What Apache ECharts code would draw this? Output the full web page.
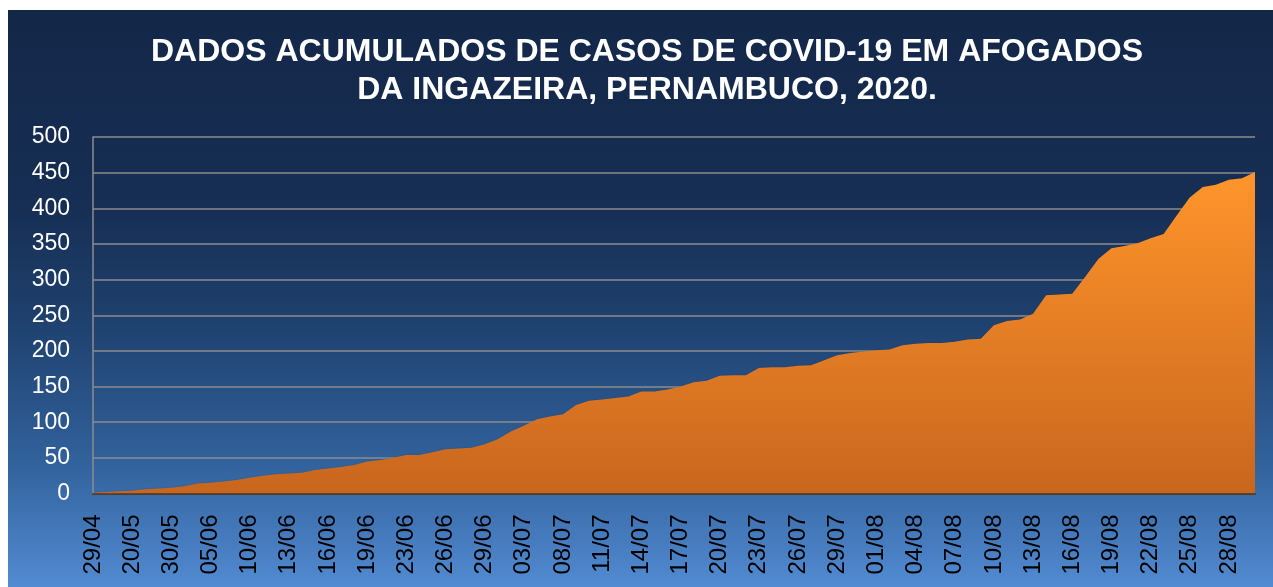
<!DOCTYPE html>
<html>
<head>
<meta charset="utf-8">
<script src="https://cdn.jsdelivr.net/npm/echarts@6/dist/echarts.min.js"></script>
<style>
  html, body { margin: 0; padding: 0; background: #ffffff; }
  #chart { position: absolute; left: 8px; top: 10px; width: 1265px; height: 577px; }
</style>
</head>
<body>
<div id="chart"></div>
<script>
// datas (só uma a cada três aparece no eixo)
var datas = [
  '29/04', '06/05', '13/05', '20/05', '23/05', '27/05', '30/05', '01/06', '03/06', '05/06',
  '07/06', '08/06', '10/06', '11/06', '12/06', '13/06', '14/06', '15/06', '16/06', '17/06',
  '18/06', '19/06', '20/06', '22/06', '23/06', '24/06', '25/06', '26/06', '27/06', '28/06',
  '29/06', '30/06', '01/07', '03/07', '05/07', '06/07', '08/07', '09/07', '10/07', '11/07',
  '12/07', '13/07', '14/07', '15/07', '16/07', '17/07', '18/07', '19/07', '20/07', '21/07',
  '22/07', '23/07', '24/07', '25/07', '26/07', '27/07', '28/07', '29/07', '30/07', '31/07',
  '01/08', '02/08', '03/08', '04/08', '05/08', '06/08', '07/08', '08/08', '09/08', '10/08',
  '11/08', '12/08', '13/08', '14/08', '15/08', '16/08', '17/08', '18/08', '19/08', '20/08',
  '21/08', '22/08', '23/08', '24/08', '25/08', '26/08', '27/08', '28/08', '29/08', '30/08'
];

// casos acumulados
var casos = [
  1, 2, 3, 4, 6, 7, 8, 10, 14, 15,
  17, 19, 22, 25, 27, 28, 29, 33, 35, 37,
  40, 45, 47, 50, 54, 54, 58, 62, 63, 64,
  69, 76, 87, 95, 104, 108, 111, 124, 130, 132,
  134, 136, 143, 143, 146, 150, 156, 158, 165, 166,
  166, 176, 177, 177, 179, 180, 187, 194, 197, 199,
  201, 202, 208, 210, 211, 211, 213, 216, 217, 236,
  242, 244, 252, 278, 279, 280, 304, 329, 344, 347,
  351, 358, 364, 390, 415, 430, 433, 440, 442, 451
];

var yTicks = [0, 50, 100, 150, 200, 250, 300, 350, 400, 450, 500];

var myChart = echarts.init(document.getElementById('chart'));

var option = {
  backgroundColor: {
    type: 'linear', x: 0, y: 0, x2: 0, y2: 1,
    colorStops: [
      { offset: 0, color: '#132748' },
      { offset: 0.35, color: '#172f55' },
      { offset: 0.55, color: '#1f4270' },
      { offset: 0.78, color: '#31619b' },
      { offset: 1, color: '#528bd2' }
    ]
  },
  animation: false,
  title: {
    text: 'DADOS ACUMULADOS DE CASOS DE COVID-19 EM AFOGADOS\nDA INGAZEIRA, PERNAMBUCO, 2020.',
    left: 634,
    textAlign: 'center',
    top: 18,
    textStyle: {
      color: '#ffffff',
      fontFamily: 'Liberation Sans',
      fontWeight: 'bold',
      fontSize: 32,
      lineHeight: 38
    }
  },
  grid: {
    left: 85,
    right: 18,
    top: 127,
    bottom: 93.5
  },
  xAxis: {
    type: 'category',
    data: datas,
    boundaryGap: false,
    axisLine: {
      lineStyle: { color: 'rgba(70,55,40,0.9)', width: 2 }
    },
    axisTick: { show: false },
    axisLabel: {
      interval: 2,
      rotate: 90,
      margin: 21,
      color: '#000000',
      fontFamily: 'Liberation Sans',
      fontSize: 24
    },
    splitLine: { show: false }
  },
  yAxis: {
    type: 'value',
    min: yTicks[0],
    max: yTicks[yTicks.length - 1],
    interval: 50,
    axisLine: {
      show: true,
      lineStyle: { color: '#8c8c8c', width: 1.5 }
    },
    axisTick: { show: false },
    axisLabel: {
      margin: 23,
      color: '#ffffff',
      fontFamily: 'Liberation Sans',
      fontSize: 23
    },
    splitLine: {
      lineStyle: { color: '#8c8c8c', width: 1.5 }
    }
  },
  series: [{
    name: 'Casos',
    type: 'line',
    data: casos,
    showSymbol: false,
    symbol: 'none',
    lineStyle: { width: 0 },
    areaStyle: {
      opacity: 1,
      color: {
        type: 'linear', x: 0, y: 0, x2: 0, y2: 1,
        colorStops: [
          { offset: 0, color: '#ff952b' },
          { offset: 1, color: '#c9661e' }
        ]
      },
      shadowColor: 'rgba(0,0,0,0.45)',
      shadowBlur: 4,
      shadowOffsetX: 2,
      shadowOffsetY: 2
    }
  }]
};

myChart.setOption(option);
</script>
</body>
</html>
